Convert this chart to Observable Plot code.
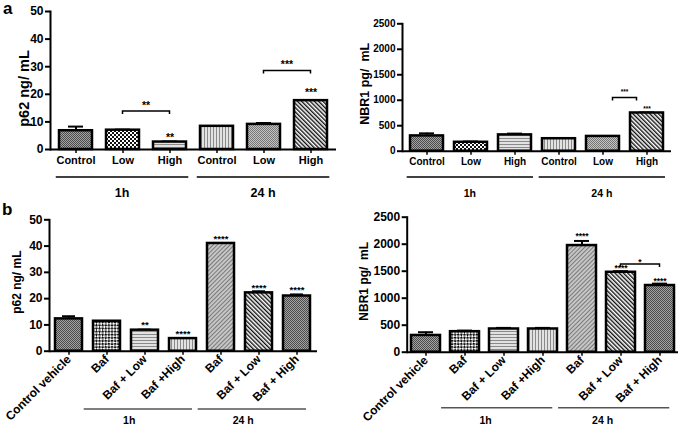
<!DOCTYPE html>
<html>
<head>
<meta charset="utf-8">
<script src="https://cdn.jsdelivr.net/npm/d3@7"></script>
<script src="https://cdn.jsdelivr.net/npm/@observablehq/plot@0.6"></script>
<style>
  body { margin: 0; background: #fff; }
  #root { position: relative; width: 685px; height: 425px; overflow: hidden; background: #fff;
          font-family: "Liberation Sans", Arial, sans-serif; }
  .letter { position: absolute; font-weight: bold; font-size: 17px; line-height: 17px; color: #000; }
</style>
</head>
<body>
<svg width="0" height="0" style="position:absolute;left:0;top:0" aria-hidden="true">
  <defs>
    <pattern id="pDark" width="2" height="2" patternUnits="userSpaceOnUse">
      <rect width="2" height="2" fill="#a4a4a4"/>
      <rect width="1" height="1" fill="#4a4a4a"/>
      <rect x="1" y="1" width="1" height="1" fill="#4a4a4a"/>
    </pattern>
    <pattern id="pMed" width="2" height="2" patternUnits="userSpaceOnUse">
      <rect width="2" height="2" fill="#c4c4c4"/>
      <rect width="1" height="1" fill="#767676"/>
      <rect x="1" y="1" width="1" height="1" fill="#767676"/>
    </pattern>
    <pattern id="pChk" width="4" height="4" patternUnits="userSpaceOnUse">
      <rect width="4" height="4" fill="#fff"/>
      <rect width="2" height="2" fill="#111"/>
      <rect x="2" y="2" width="2" height="2" fill="#111"/>
    </pattern>
    <pattern id="pChkB" width="4.4" height="4.4" patternUnits="userSpaceOnUse" patternTransform="rotate(45)">
      <rect width="4.4" height="4.4" fill="#fff"/>
      <rect width="2.2" height="2.2" fill="#111"/>
      <rect x="2.2" y="2.2" width="2.2" height="2.2" fill="#111"/>
    </pattern>
    <pattern id="pHL" width="3" height="3" patternUnits="userSpaceOnUse">
      <rect width="3" height="3" fill="#e2e2e2"/>
      <rect width="3" height="1" fill="#8a8a8a"/>
    </pattern>
    <pattern id="pVL" width="3" height="3" patternUnits="userSpaceOnUse">
      <rect width="3" height="3" fill="#e2e2e2"/>
      <rect width="1" height="3" fill="#8a8a8a"/>
    </pattern>
    <pattern id="pFine" width="3" height="3" patternUnits="userSpaceOnUse" patternTransform="rotate(45)">
      <rect width="3" height="3" fill="#c6c6c6"/>
      <rect width="1" height="3" fill="#7a7a7a"/>
    </pattern>
    <pattern id="pStripe" width="3" height="3" patternUnits="userSpaceOnUse" patternTransform="rotate(-45)">
      <rect width="3" height="3" fill="#fff"/>
      <rect width="1.4" height="3" fill="#111"/>
    </pattern>
  </defs>
</svg>
<div id="root">
  <div class="letter" style="left:3px;top:0px;">a</div>
  <div class="letter" style="left:2px;top:201px;">b</div>
</div>
<script>
// ---------------- data ----------------
const groupNames = ["1h", "24 h"];

// panel a
const aLabels = ["Control", "Low", "High", "Control", "Low", "High"];
const aGroups = [0, 0, 0, 1, 1, 1];
const aP62 = [6.8, 7.0, 2.7, 8.4, 9.1, 17.7];
const aP62Err = [8.3, 7.2, 2.9, 8.4, 9.6, 17.8];
const aNBR1 = [300, 175, 320, 245, 290, 750];
const aNBR1Err = [350, 190, 345, 255, 295, 760];

// panel b
const bLabels = ["Control vehicle", "Baf", "Baf + Low", "Baf +High", "Baf", "Baf + Low", "Baf + High"];
const bGroups = [null, 0, 0, 0, 1, 1, 1];
const bP62 = [12.3, 11.4, 8.0, 4.8, 41.0, 22.2, 21.0];
const bP62Err = [13.3, 11.5, 8.2, 4.9, 41.1, 22.8, 21.6];
const bNBR1 = [310, 380, 430, 430, 1975, 1480, 1235];
const bNBR1Err = [370, 400, 450, 450, 2060, 1500, 1270];

// axis ticks
const p62Ticks = [0, 10, 20, 30, 40, 50];
const nbr1Ticks = [0, 500, 1000, 1500, 2000, 2500];
const p62Label = "p62 ng/ mL";
const nbr1Label = "NBR1 pg/  mL";

// significance marks (bar index, level of the asterisks)
const aP62Stars = [{i: 2, y: 5.1, t: "**"}, {i: 5, y: 21.6, t: "***"}];
const aP62Brackets = [{from: 1, to: 2, y: 13.8, ty: 16.8, t: "**"}, {from: 4, to: 5, y: 28.4, ty: 31.3, t: "***"}];
const aNBR1Stars = [{i: 5, y: 863, t: "***"}];
const aNBR1Brackets = [{from: 4, to: 5, y: 1046, ty: 1177, t: "***"}];
const bP62Stars = [{i: 2, y: 11.0, t: "**"}, {i: 3, y: 7.5, t: "****"}, {i: 4, y: 43.4, t: "****"}, {i: 5, y: 25.0, t: "****"}, {i: 6, y: 24.3, t: "****"}];
const bP62Brackets = [];
const bNBR1Stars = [{i: 4, y: 2180, t: "****"}, {i: 5, y: 1590, t: "****"}, {i: 6, y: 1350, t: "****"}];
const bNBR1Brackets = [{from: 5, to: 6, y: 1623, ty: 1698, t: "*"}];

// ---------------- styles ----------------
const aPatterns = ["pDark", "pChk", "pHL", "pVL", "pMed", "pStripe"];
const bPatterns = ["pDark", "pChkB", "pHL", "pVL", "pFine", "pStripe", "pDark"];
const FONT = '"Liberation Sans", Arial, sans-serif';

function makePanel(c) {
  const n = c.labels.length;
  const idx = d3.range(n);
  const rows = idx.map(i => ({i, v: c.values[i], e: c.errs[i], fill: `url(#${c.pats[i]})`}));
  const errRows = rows.filter(d => d.e > d.v);
  const plot = Plot.plot({
    width: c.width, height: c.height,
    marginLeft: c.ml, marginRight: c.mr, marginTop: c.mt, marginBottom: c.mb,
    style: {position: "absolute", left: c.left + "px", top: c.top + "px", fontFamily: FONT,
            fontWeight: "bold", fontSize: "11px", color: "#000", background: "transparent", overflow: "visible"},
    x: {type: "band", domain: idx, paddingInner: c.pi, paddingOuter: c.po, align: 0.5},
    y: {domain: [0, c.yMax]},
    color: {type: "identity"},
    marks: [
      Plot.ruleX(errRows, {x: "i", y1: "v", y2: "e", stroke: "#000", strokeWidth: 2}),
      Plot.tickY(errRows, {x: "i", y: "e", stroke: "#000", strokeWidth: 2, insetLeft: c.capInset, insetRight: c.capInset}),
      Plot.barY(rows, {x: "i", y: "v", fill: "fill", stroke: "#000", strokeWidth: 2.5}),
      Plot.ruleY([0], {stroke: "#000", strokeWidth: 2}),
      Plot.frame({anchor: "left", stroke: "#000", strokeWidth: 2}),
      Plot.axisY({ticks: c.yTicks, tickFormat: d => String(d), tickSize: 5, tickPadding: 2, strokeWidth: 2,
                  fontSize: c.yTickSize, label: null}),
      Plot.axisX({tickFormat: i => c.labels[i], tickSize: 4, tickPadding: c.rotate ? 2 : 3, strokeWidth: 1.5,
                  fontSize: c.xTickSize, label: null, tickRotate: c.rotate || 0}),
      Plot.text([c.yLabel], {frameAnchor: "left", textAnchor: "middle", rotate: -90, dx: c.yLabelDx, dy: c.yLabelDy,
                             fontSize: c.yLabelSize, text: d => d}),
      Plot.text(c.stars, {x: "i", y: "y", text: "t", fontSize: c.starSize, dy: 0.24 * c.starSize})
    ]
  });

  // brackets and time-group lines, positioned through the plot's own scales
  const sx = plot.scale("x"), sy = plot.scale("y");
  const bw = sx.bandwidth, step = sx.step;
  const cx = i => sx.apply(i) + bw / 2;
  const svg = d3.select(plot);
  for (const b of c.brackets) {
    const x1 = cx(b.from) + c.bracketInset, x2 = cx(b.to) - c.bracketInset, y = sy.apply(b.y);
    svg.append("path").attr("fill", "none").attr("stroke", "#000").attr("stroke-width", 1.5)
      .attr("d", `M${x1},${y + 3}V${y}H${x2}V${y + 3}`);
    svg.append("text").attr("x", (x1 + x2) / 2).attr("y", sy.apply(b.ty) + 0.56 * c.starSize)
      .attr("text-anchor", "middle").attr("font-size", c.starSize).attr("fill", "#000").text(b.t);
  }
  groupNames.forEach((name, g) => {
    const members = idx.filter(i => c.groups[i] === g);
    const x1 = cx(members[0]) - c.gLeft * step;
    const x2 = cx(members[members.length - 1]) + c.gRight * step;
    svg.append("line").attr("x1", x1).attr("x2", x2).attr("y1", c.gLineY).attr("y2", c.gLineY)
      .attr("stroke", c.gStroke).attr("stroke-width", 1.4);
    svg.append("text").attr("x", x1 + c.gFrac * (x2 - x1)).attr("y", c.gLabelY)
      .attr("dy", "0.35em").attr("text-anchor", "middle").attr("font-size", c.gSize)
      .attr("fill", "#000").text(name);
  });
  return plot;
}

const root = document.getElementById("root");

root.appendChild(makePanel({
  labels: aLabels, groups: aGroups, values: aP62, errs: aP62Err, pats: aPatterns,
  yMax: 50, yTicks: p62Ticks, yLabel: p62Label, stars: aP62Stars, brackets: aP62Brackets,
  left: 0, top: 0, width: 342, height: 200, ml: 50, mr: 6, mt: 11, mb: 51,
  pi: 0.3, po: 0.13, capInset: 9, yTickSize: 12, xTickSize: 11, yLabelSize: 14.5,
  yLabelDx: -26.5, yLabelDy: 8, starSize: 10.5, bracketInset: 0,
  gLeft: 0.42, gRight: 0.4, gFrac: 0.5, gLineY: 177, gLabelY: 193, gSize: 12.5, gStroke: "#000"
}));

root.appendChild(makePanel({
  labels: aLabels, groups: aGroups, values: aNBR1, errs: aNBR1Err, pats: aPatterns,
  yMax: 2500, yTicks: nbr1Ticks, yLabel: nbr1Label, stars: aNBR1Stars, brackets: aNBR1Brackets,
  left: 340, top: 0, width: 345, height: 200, ml: 62, mr: 14, mt: 23.3, mb: 49.3,
  pi: 0.25, po: 0.17, capInset: 9, yTickSize: 10, xTickSize: 10, yLabelSize: 12.5,
  yLabelDx: -37.3, yLabelDy: -3.7, starSize: 6.5, bracketInset: 10,
  gLeft: 0.45, gRight: 0.42, gFrac: 0.5, gLineY: 177, gLabelY: 193, gSize: 10.5, gStroke: "#000"
}));

root.appendChild(makePanel({
  labels: bLabels, groups: bGroups, values: bP62, errs: bP62Err, pats: bPatterns,
  yMax: 50, yTicks: p62Ticks, yLabel: p62Label, stars: bP62Stars, brackets: bP62Brackets,
  left: 0, top: 190, width: 342, height: 235, ml: 49, mr: 25, mt: 29.3, mb: 74.3,
  pi: 0.28, po: 0.15, capInset: 7, yTickSize: 12, xTickSize: 12, yLabelSize: 12, rotate: -45,
  yLabelDx: -32.8, yLabelDy: -3.3, starSize: 9.5, bracketInset: 0,
  gLeft: 0.6, gRight: 0.25, gFrac: 0.42, gLineY: 219, gLabelY: 230, gSize: 10.5, gStroke: "#555"
}));

root.appendChild(makePanel({
  labels: bLabels, groups: bGroups, values: bNBR1, errs: bNBR1Err, pats: bPatterns,
  yMax: 2500, yTicks: nbr1Ticks, yLabel: nbr1Label, stars: bNBR1Stars, brackets: bNBR1Brackets,
  left: 340, top: 190, width: 345, height: 235, ml: 66.7, mr: 7, mt: 26.7, mb: 73.3,
  pi: 0.26, po: 0.09, capInset: 7, yTickSize: 12, xTickSize: 12, yLabelSize: 12, rotate: -45,
  yLabelDx: -43, yLabelDy: -3.4, starSize: 8.5, bracketInset: 0,
  gLeft: 0.6, gRight: 0.25, gFrac: 0.4, gLineY: 217.7, gLabelY: 230, gSize: 10.5, gStroke: "#555"
}));
</script>
</body>
</html>
